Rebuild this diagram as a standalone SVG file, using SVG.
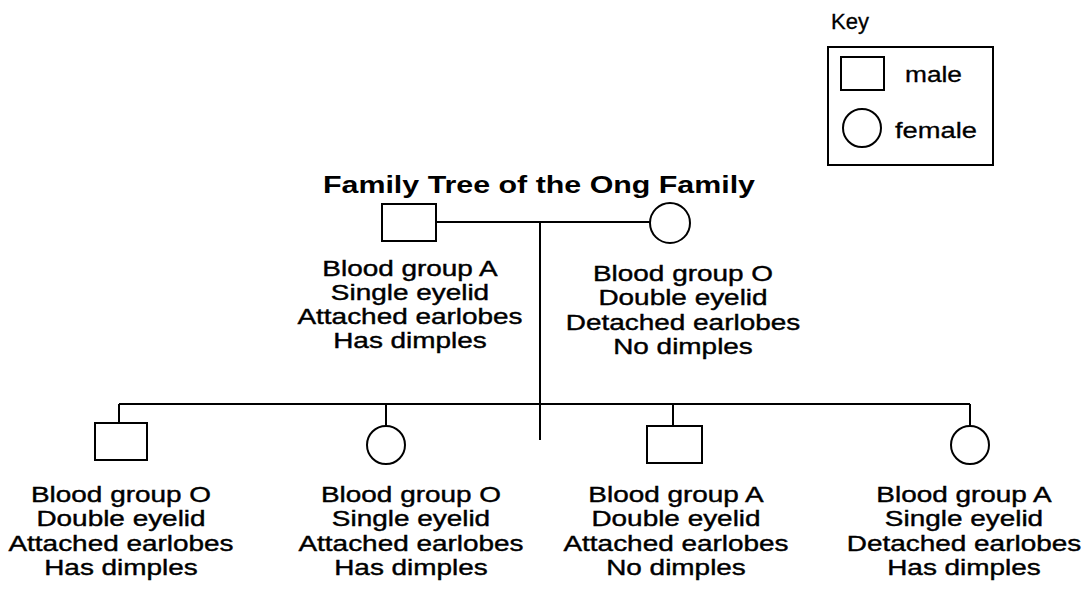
<svg xmlns="http://www.w3.org/2000/svg" width="1088" height="609" viewBox="0 0 1088 609">
<style>
.s{fill:none;stroke:#000;stroke-width:2}
.t{font-family:"Liberation Sans",Arial,sans-serif;font-size:22px;fill:#000;text-anchor:middle;stroke:#000;stroke-width:0.4}
.k{font-family:"Liberation Sans",Arial,sans-serif;font-size:22px;fill:#000;stroke:#000;stroke-width:0.3}
.title{font-family:"Liberation Sans",Arial,sans-serif;font-size:23px;font-weight:bold;fill:#000;text-anchor:middle}
</style>
<rect width="1088" height="609" fill="#fff"/>
<g id="key">
<text class="k" x="831" y="29">Key</text>
<rect class="s" x="828" y="47" width="165" height="118"/>
<rect class="s" x="841" y="57" width="43" height="33"/>
<text class="k" x="905" y="82" textLength="57" lengthAdjust="spacingAndGlyphs">male</text>
<circle class="s" cx="862" cy="128" r="19"/>
<text class="k" x="895" y="138" textLength="82" lengthAdjust="spacingAndGlyphs">female</text>
</g>
<text class="title" x="539" y="193" textLength="432" lengthAdjust="spacingAndGlyphs">Family Tree of the Ong Family</text>
<g id="connectors">
<path class="s" d="M437 222H651M540 222V440M119 404H970M119 404V423M386 404V426M673 404V426M970 404V426"/>
</g>
<g id="father">
<rect class="s" x="382" y="204" width="54" height="37"/>
<g transform="translate(410 0) scale(1.27 1)">
<text class="t" x="0" y="276">Blood group A</text>
<text class="t" x="0" y="300">Single eyelid</text>
<text class="t" x="0" y="324">Attached earlobes</text>
<text class="t" x="0" y="348">Has dimples</text>
</g>
</g>
<g id="mother">
<circle class="s" cx="670" cy="223" r="20"/>
<g transform="translate(683 0) scale(1.27 1)">
<text class="t" x="0" y="281">Blood group O</text>
<text class="t" x="0" y="305">Double eyelid</text>
<text class="t" x="0" y="330">Detached earlobes</text>
<text class="t" x="0" y="354">No dimples</text>
</g>
</g>
<g id="child1">
<rect class="s" x="95" y="423" width="52" height="37"/>
<g transform="translate(121 0) scale(1.27 1)">
<text class="t" x="0" y="502">Blood group O</text>
<text class="t" x="0" y="526">Double eyelid</text>
<text class="t" x="0" y="551">Attached earlobes</text>
<text class="t" x="0" y="575">Has dimples</text>
</g>
</g>
<g id="child2">
<circle class="s" cx="386" cy="445" r="19"/>
<g transform="translate(411 0) scale(1.27 1)">
<text class="t" x="0" y="502">Blood group O</text>
<text class="t" x="0" y="526">Single eyelid</text>
<text class="t" x="0" y="551">Attached earlobes</text>
<text class="t" x="0" y="575">Has dimples</text>
</g>
</g>
<g id="child3">
<rect class="s" x="647" y="426" width="55" height="37"/>
<g transform="translate(676 0) scale(1.27 1)">
<text class="t" x="0" y="502">Blood group A</text>
<text class="t" x="0" y="526">Double eyelid</text>
<text class="t" x="0" y="551">Attached earlobes</text>
<text class="t" x="0" y="575">No dimples</text>
</g>
</g>
<g id="child4">
<circle class="s" cx="970" cy="445" r="19"/>
<g transform="translate(964 0) scale(1.27 1)">
<text class="t" x="0" y="502">Blood group A</text>
<text class="t" x="0" y="526">Single eyelid</text>
<text class="t" x="0" y="551">Detached earlobes</text>
<text class="t" x="0" y="575">Has dimples</text>
</g>
</g>
</svg>
